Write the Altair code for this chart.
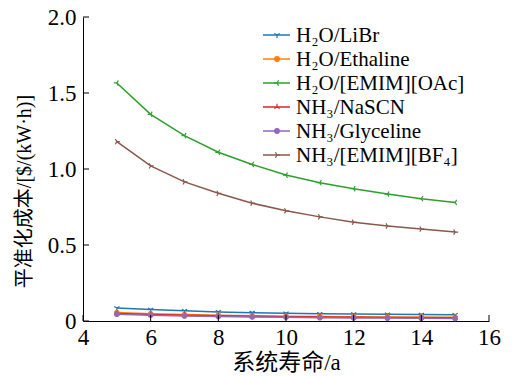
import altair as alt
import pandas as pd

years = [5, 6, 7, 8, 9, 10, 11, 12, 13, 14, 15]
series_names = ["H₂O/LiBr", "H₂O/Ethaline", "H₂O/[EMIM][OAc]",
                "NH₃/NaSCN", "NH₃/Glyceline", "NH₃/[EMIM][BF₄]"]
libr = [0.085, 0.075, 0.067, 0.060, 0.055, 0.051, 0.048, 0.046, 0.044, 0.042, 0.041]
ethaline = [0.056, 0.048, 0.042, 0.038, 0.035, 0.032, 0.030, 0.028, 0.027, 0.026, 0.025]
emim_oac = [1.566, 1.36, 1.22, 1.11, 1.03, 0.96, 0.91, 0.87, 0.835, 0.805, 0.78]
nascn = [0.050, 0.043, 0.038, 0.034, 0.031, 0.028, 0.026, 0.024, 0.023, 0.022, 0.021]
glyceline = [0.045, 0.038, 0.033, 0.029, 0.026, 0.024, 0.022, 0.020, 0.019, 0.018, 0.017]
emim_bf4 = [1.18, 1.02, 0.915, 0.84, 0.775, 0.725, 0.685, 0.65, 0.625, 0.605, 0.585]
x_ticks = [4, 6, 8, 10, 12, 14, 16]
y_ticks = [0, 0.5, 1.0, 1.5, 2.0]

colors = ["#1f77b4", "#ff7f0e", "#2ca02c", "#d62728", "#9467bd", "#8c564b"]

tri_down = "M0,0L0,1M0,0L-0.87,-0.5M0,0L0.87,-0.5"
tri_up = "M0,0L0,-1M0,0L-0.87,0.5M0,0L0.87,0.5"
tri_left = "M0,0L-1,0M0,0L0.5,-0.87M0,0L0.5,0.87"
tri_right = "M0,0L1,0M0,0L-0.5,-0.87M0,0L-0.5,0.87"
circ = "M0.75,0A0.75,0.75 0 1,1 -0.75,0A0.75,0.75 0 1,1 0.75,0Z"
marker_shapes = [tri_down, circ, tri_left, tri_up, circ, tri_right]

rows = []
for name, vals in zip(series_names, [libr, ethaline, emim_oac, nascn, glyceline, emim_bf4]):
    for yr, v in zip(years, vals):
        rows.append({"year": yr, "cost": v, "series": name})
df = pd.DataFrame(rows)

FONT = "Liberation Serif, Noto Sans CJK SC"
W, H = 406, 304

# legend layout (pixels inside the plot area)
LEG_TOP, LEG_STEP = 18, 24
leg_df = pd.DataFrame({"series": series_names,
                       "ypx": [LEG_TOP + i * LEG_STEP for i in range(len(series_names))]})

xs = alt.Scale(domain=[4, 16], nice=False)
ys = alt.Scale(domain=[0, 2.0], nice=False)
cscale = alt.Scale(domain=series_names, range=colors)
sscale = alt.Scale(domain=series_names, range=marker_shapes)

x_enc = alt.X("year:Q", scale=xs,
              axis=alt.Axis(values=x_ticks, title="系统寿命/a", grid=False, ticks=False,
                            labelFontSize=23, labelFont=FONT, labelColor="black",
                            titleFontSize=23, titleFont=FONT, titleFontWeight="normal",
                            titleColor="black", domainColor="black", labelPadding=5,
                            titleY=30, titleBaseline="top", labelFlush=False))
y_enc = alt.Y("cost:Q", scale=ys,
              axis=alt.Axis(values=y_ticks, title="平准化成本/[$/(kW·h)]", grid=False, ticks=False,
                            labelFontSize=23, labelFont=FONT, labelColor="black",
                            labelExpr="datum.value == 0 ? '0' : format(datum.value, '.1f')",
                            titleFontSize=20, titleFont=FONT, titleFontWeight="normal",
                            titleColor="black", domainColor="black", labelPadding=7,
                            titleX=-59, titleY=174, titleAngle=270, titleBaseline="middle",
                            titleAlign="center", labelFlush=False))

base = alt.Chart(df)
lines = base.mark_line(strokeWidth=1.5).encode(
    x=x_enc, y=y_enc,
    color=alt.Color("series:N", scale=cscale, legend=None),
    detail="series:N")
pts = base.mark_point(filled=True, size=36, strokeWidth=1.2, opacity=1).encode(
    x="year:Q", y="cost:Q",
    color=alt.Color("series:N", scale=cscale, legend=None),
    stroke=alt.Stroke("series:N", scale=cscale, legend=None),
    shape=alt.Shape("series:N", scale=sscale, legend=None))

leg_base = alt.Chart(leg_df)
leg_lines = leg_base.mark_rule(strokeWidth=1.5).encode(
    x=alt.value(180), x2=alt.value(207),
    y=alt.Y("ypx:Q", scale=None),
    color=alt.Color("series:N", scale=cscale, legend=None))
leg_pts = leg_base.mark_point(filled=True, size=40, strokeWidth=1.2, opacity=1).encode(
    x=alt.value(194),
    y=alt.Y("ypx:Q", scale=None),
    color=alt.Color("series:N", scale=cscale, legend=None),
    stroke=alt.Stroke("series:N", scale=cscale, legend=None),
    shape=alt.Shape("series:N", scale=sscale, legend=None))
leg_text = leg_base.mark_text(align="left", baseline="middle", fontSize=21, font=FONT,
                              color="black", dy=1).encode(
    x=alt.value(213),
    y=alt.Y("ypx:Q", scale=None),
    text="series:N")

xt = pd.DataFrame({"t": x_ticks})
yt = pd.DataFrame({"t": y_ticks})
xtick_rules = alt.Chart(xt).mark_rule(color="black", strokeWidth=1).encode(
    x=alt.X("t:Q", scale=xs), y=alt.value(H), y2=alt.value(H - 6))
ytick_rules = alt.Chart(yt).mark_rule(color="black", strokeWidth=1).encode(
    y=alt.Y("t:Q", scale=ys), x=alt.value(0), x2=alt.value(6))

chart = alt.layer(lines, pts, xtick_rules, ytick_rules, leg_lines, leg_pts, leg_text).properties(
    width=W, height=H,
    autosize=alt.AutoSizeParams(type="none"),
    padding={"left": 83, "top": 17, "right": 27, "bottom": 55},
    background="white"
).configure_view(stroke=None)

chart.save("out.html", embed_options={"renderer": "svg", "actions": False})
